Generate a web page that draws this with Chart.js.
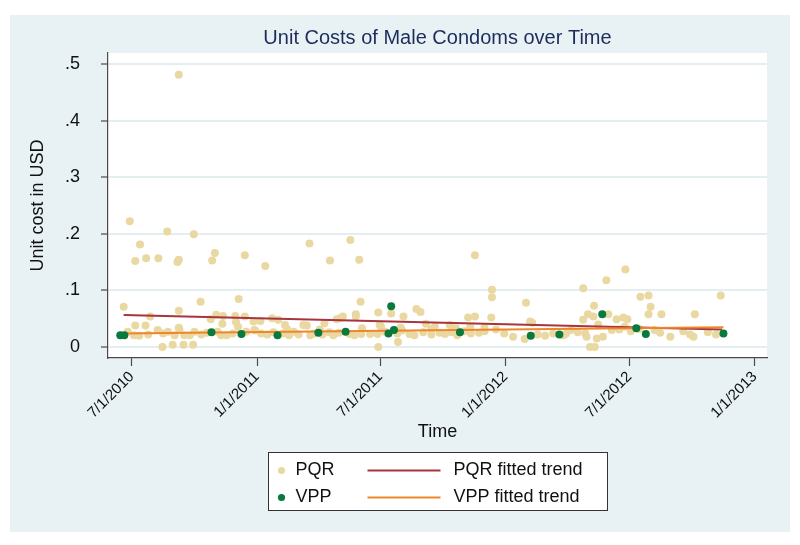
<!DOCTYPE html>
<html>
<head>
<meta charset="utf-8">
<title>Unit Costs of Male Condoms over Time</title>
<script src="https://cdn.jsdelivr.net/npm/chart.js@4"></script>
<style>
  html, body { margin: 0; padding: 0; background: #fff; }
  #chart { display: block; }
</style>
</head>
<body>
<canvas id="chart" width="800" height="545"></canvas>
<script>
// x values are days after 1 Jul 2010, y values are unit cost in USD

// PQR purchases
const pqrDays = [
  -3, 52, 91, 12, 5, 21, 39, 69, 67, 69, 122, 118, 166, 196, 261, 291, 321, 334, 504, 529, 529, 663, 697, 725,
  -12, 101, 157, 69, 27, 124, 134, 152, 166, 116, 206, 215, 301, 306, 310, 329, 329, 336, 362, 381, 399, 418, 424,
  494, 504, 528, 579, 585, 663, 670, 678, 679, 685, 700, 712, 722, 728, 747, 759, 759, 762, 778, 827, 865, 724,
  5, 20, 38, 69, 70, 133, 153, 156, 179, 180, 189, 225, 252, 257, 283, 364, 366, 432, 445, 467, 497, 588,
  518, 440, 476, 395, 276, 228, 338,
  -6, 3, 11, 24, 46, 53, 63, 77, 85, 92, 102, 110, 126, 131, 139, 148, 168, 181, 190, 199, 208, 222, 231, 238,
  245, 262, 268, 280, 290, 296, 304, 320, 327, 337, 350, 361, 372, 390, 397, 408, 415, 428, 440, 452, 460, 470,
  478, 488, 498, 510, 518, 535, 547, 560, 577, 596, 607, 619, 634, 638, 645, 655, 666, 668, 683, 692, 705, 716,
  733, 745, 768, 776, 791, 810, 820, 825, 846, 858,
  45, 60, 76, 90, 362, 391, 673, 680
];
const pqrCost = [
  .222, .204, .199, .181, .152, .157, .157, .154, .150, .481, .166, .153, .162, .143, .183, .153, .189, .154, .162, .101, .088, .104, .118, .137,
  .071, .080, .085, .064, .054, .057, .055, .055, .054, .049, .051, .048, .049, .051, .054, .058, .054, .080, .061, .059, .054, .067, .062,
  .052, .054, .052, .078, .045, .048, .058, .054, .073, .040, .058, .049, .052, .049, .089, .091, .058, .071, .058, .058, .091, .036,
  .038, .038, .030, .034, .030, .041, .044, .036, .045, .030, .046, .039, .039, .038, .042, .039, .036, .041, .036, .039, .036, .043,
  .034, .032, .033, .034, .031, .032, .033,
  .027, .021, .020, .022, .024, .027, .021, .021, .021, .027, .022, .025, .027, .021, .021, .024, .027, .029, .024, .022, .026, .024, .021, .027,
  .022, .021, .024, .022, .026, .021, .025, .023, .021, .023, .023, .023, .027, .024, .029, .023, .021, .026, .022, .025, .023, .026,
  .021, .028, .024, .025, .028, .031, .024, .018, .014, .022, .020, .024, .021, .024, .030, .026, .024, .018, .015, .018, .030, .031,
  .028, .032, .030, .025, .018, .028, .022, .018, .026, .022,
  .000, .004, .004, .004, .000, .009, .000, .000
];

// VPP purchases
const vppDays = [-17, -11, 117, 161, 214, 274, 314, 377, 381, 385, 482, 586, 628, 691, 741, 755, 869];
const vppCost = [.021, .021, .026, .023, .021, .025, .027, .024, .072, .030, .026, .020, .022, .058, .033, .023, .024];

// fitted trend end points
const pqrTrendDays = [-12, 867];
const pqrTrendCost = [.0565, .031];
const vppTrendDays = [-18, 869];
const vppTrendCost = [.024, .035];

// axis ticks
const xTickDays = [0, 184, 365, 549, 731, 915];
const xTickLabels = ['7/1/2010', '1/1/2011', '7/1/2011', '1/1/2012', '7/1/2012', '1/1/2013'];
const yTickValues = [0, .1, .2, .3, .4, .5];
const yTickLabels = ['0', '.1', '.2', '.3', '.4', '.5'];

const COLORS = {
  pqr: '#EAD8A2',
  vpp: '#0A7A3C',
  pqrTrend: '#A8343C',
  vppTrend: '#F0852A',
  panel: '#E8F2F4',
  grid: '#E4EEF0',
  axis: '#4a4a4a',
  title: '#1E2C5C',
  text: '#111111'
};

function toPoints(xs, ys) {
  return xs.map((x, i) => ({ x: x, y: ys[i] }));
}

Chart.defaults.font.family = "'Liberation Sans', Arial, sans-serif";
Chart.defaults.color = COLORS.text;

// light outer panel and white plot region
const backgroundPlugin = {
  id: 'stataBackground',
  beforeDraw(chart) {
    const { ctx, chartArea } = chart;
    ctx.save();
    ctx.fillStyle = '#ffffff';
    ctx.fillRect(0, 0, chart.width, chart.height);
    ctx.fillStyle = COLORS.panel;
    ctx.fillRect(10, 15, chart.width - 20, chart.height - 28);
    ctx.fillStyle = '#ffffff';
    ctx.fillRect(chartArea.left, chartArea.top, chartArea.right - chartArea.left, chartArea.bottom - chartArea.top);
    ctx.restore();
  }
};

// two-column boxed legend like the Stata one
const legendPlugin = {
  id: 'boxLegend',
  afterDraw(chart) {
    const { ctx, chartArea } = chart;
    const ds = chart.data.datasets;
    const rows = [[ds[0], ds[1]], [ds[2], ds[3]]];
    const boxW = 339, boxH = 58;
    const cx = (chartArea.left + chartArea.right) / 2;
    const left = Math.round(cx - boxW / 2) + 0.5;
    const top = 452.5;

    ctx.save();
    ctx.fillStyle = '#ffffff';
    ctx.fillRect(left, top, boxW, boxH);
    ctx.strokeStyle = '#333333';
    ctx.lineWidth = 1;
    ctx.strokeRect(left, top, boxW, boxH);

    ctx.font = "18px 'Liberation Sans', Arial, sans-serif";
    ctx.textBaseline = 'middle';
    ctx.textAlign = 'left';
    rows.forEach((row, r) => {
      const y = top + 18 + r * 27;
      const dot = row[0];
      const line = row[1];
      ctx.fillStyle = dot.backgroundColor;
      ctx.beginPath();
      ctx.arc(left + 13, y, 3.6, 0, Math.PI * 2);
      ctx.fill();
      ctx.fillStyle = COLORS.text;
      ctx.fillText(dot.label, left + 27, y);

      ctx.strokeStyle = line.borderColor;
      ctx.lineWidth = 2;
      ctx.beginPath();
      ctx.moveTo(left + 99, y);
      ctx.lineTo(left + 172, y);
      ctx.stroke();
      ctx.fillStyle = COLORS.text;
      ctx.fillText(line.label, left + 185, y);
    });
    ctx.restore();
  }
};

function initCostChart() {
  const ctx = document.getElementById('chart').getContext('2d');

  new Chart(ctx, {
    type: 'scatter',
    data: {
      datasets: [
        {
          label: 'PQR',
          data: toPoints(pqrDays, pqrCost),
          backgroundColor: COLORS.pqr,
          borderWidth: 0,
          pointRadius: 4,
          order: 3
        },
        {
          label: 'PQR fitted trend',
          data: toPoints(pqrTrendDays, pqrTrendCost),
          showLine: true,
          borderColor: COLORS.pqrTrend,
          backgroundColor: COLORS.pqrTrend,
          borderWidth: 2,
          pointRadius: 0,
          order: 2
        },
        {
          label: 'VPP',
          data: toPoints(vppDays, vppCost),
          backgroundColor: COLORS.vpp,
          borderWidth: 0,
          pointRadius: 4,
          order: 0
        },
        {
          label: 'VPP fitted trend',
          data: toPoints(vppTrendDays, vppTrendCost),
          showLine: true,
          borderColor: COLORS.vppTrend,
          backgroundColor: COLORS.vppTrend,
          borderWidth: 2,
          pointRadius: 0,
          order: 1
        }
      ]
    },
    options: {
      responsive: false,
      animation: false,
      layout: {
        padding: { left: 0, right: 33, top: 0, bottom: 99 }
      },
      plugins: {
        legend: { display: false },
        tooltip: { enabled: false },
        title: {
          display: true,
          text: 'Unit Costs of Male Condoms over Time',
          fullSize: false,
          color: COLORS.title,
          font: { size: 20, weight: 'normal' },
          padding: { top: 26, bottom: 3 }
        }
      },
      scales: {
        x: {
          type: 'linear',
          min: -35,
          max: 933,
          afterFit(scale) { scale.height = 88; },
          afterBuildTicks(scale) {
            scale.ticks = xTickDays.map(v => ({ value: v }));
          },
          ticks: {
            autoSkip: false,
            minRotation: 45,
            maxRotation: 45,
            padding: 2,
            font: { size: 15 },
            color: COLORS.text,
            callback: (value, index) => xTickLabels[index]
          },
          grid: {
            drawOnChartArea: false,
            drawTicks: true,
            tickLength: 8,
            tickColor: COLORS.axis,
            tickWidth: 1.2
          },
          border: { color: COLORS.axis, width: 1.2 },
          title: {
            display: true,
            text: 'Time',
            font: { size: 18 },
            color: COLORS.text,
            padding: { top: 4, bottom: 3 }
          }
        },
        y: {
          min: -0.0194,
          max: 0.5194,
          afterFit(scale) { scale.width = 108; },
          afterBuildTicks(scale) {
            scale.ticks = yTickValues.map(v => ({ value: v }));
          },
          ticks: {
            autoSkip: false,
            padding: 21,
            font: { size: 18 },
            color: COLORS.text,
            callback: (value, index) => yTickLabels[index]
          },
          grid: {
            color: COLORS.grid,
            lineWidth: 2,
            drawTicks: true,
            tickLength: 7,
            tickColor: COLORS.axis,
            tickWidth: 1.2
          },
          border: { color: COLORS.axis, width: 1.2 },
          title: {
            display: true,
            text: 'Unit cost in USD',
            font: { size: 18 },
            color: COLORS.text,
            padding: { top: 27, bottom: 4 }
          }
        }
      }
    },
    plugins: [backgroundPlugin, legendPlugin]
  });
}

initCostChart();
</script>
</body>
</html>
